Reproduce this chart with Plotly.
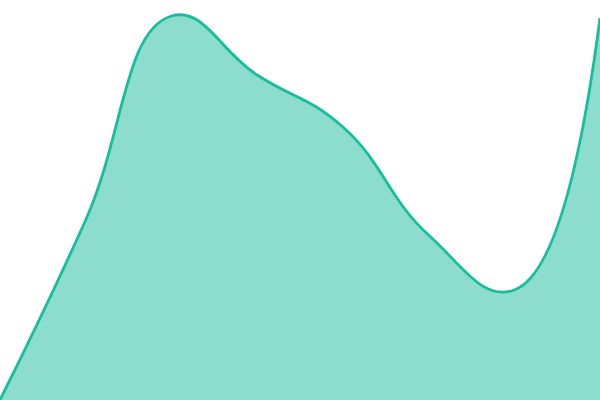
import plotly.graph_objects as go

x_vals = [0, 1, 2, 3, 4, 5, 6, 7]
y_vals = [0, 180, 384, 325, 273, 165, 110, 382]

fig = go.Figure()
fig.add_trace(go.Scatter(
    x=x_vals, y=y_vals, mode="lines",
    line=dict(color="#1abc9c", width=2.8, shape="spline", smoothing=1.3),
    fill="tozeroy", fillcolor="rgba(26,188,156,0.5)",
    hoverinfo="skip",
))
fig.update_layout(
    width=600, height=400,
    margin=dict(l=0, r=0, t=0, b=0),
    paper_bgcolor="white", plot_bgcolor="white",
    showlegend=False,
    xaxis=dict(visible=False, range=[0, 7]),
    yaxis=dict(visible=False, range=[0, 400]),
)
fig.write_html("out.html", config={"displayModeBar": False},
               post_script="document.body.style.margin='0';document.body.style.overflow='hidden';")
